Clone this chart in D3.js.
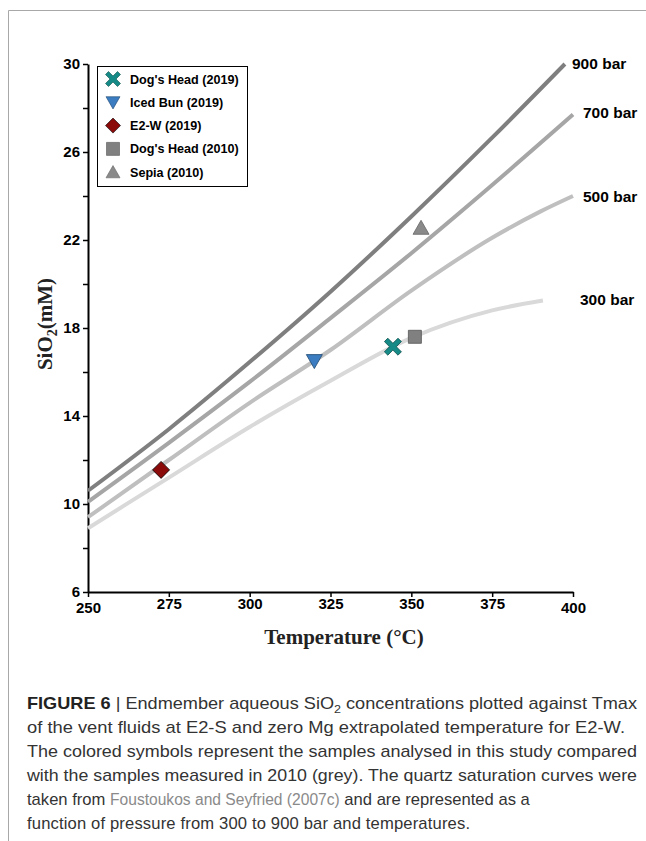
<!DOCTYPE html>
<html>
<head>
<meta charset="utf-8">
<script src="https://cdn.jsdelivr.net/npm/d3@7/dist/d3.min.js"></script>
<style>
  html, body { margin: 0; padding: 0; background: #fff; }
  svg { display: block; }
</style>
</head>
<body>
<svg id="chart" width="646" height="841"></svg>
<script>
// Quartz saturation curves (Foustoukos & Seyfried 2007c), temperature in °C, SiO2 in mM
const curveNames = ["900 bar", "700 bar", "500 bar", "300 bar"];
const curve900 = [[250, 10.6], [275, 13.4], [300, 16.45], [325, 19.65], [350, 23.07], [375, 26.65], [397.5, 30.0]];
const curve700 = [[250, 10.1], [275, 12.78], [300, 15.55], [325, 18.45], [350, 21.4], [375, 24.5], [400, 27.7]];
const curve500 = [[250, 9.4], [275, 12.0], [300, 14.6], [325, 17.0], [350, 19.7], [375, 22.1], [390, 23.3], [400, 24.0]];
const curve300 = [[250, 8.9], [275, 11.2], [300, 13.5], [325, 15.6], [350, 17.55], [375, 18.8], [390.7, 19.25]];
const curveColors = ["#7f7f7f", "#a6a6a6", "#bfbfbf", "#d9d9d9"];

// Vent fluid samples
const sampleNames = ["Dog's Head (2019)", "Iced Bun (2019)", "E2-W (2019)", "Dog's Head (2010)", "Sepia (2010)"];
const sampleTemps = [344.3, 320.0, 272.6, 351.1, 353.0];
const sampleSiO2 = [17.15, 16.5, 11.55, 17.6, 22.55];
const sampleFills = ["#168a86", "#3b7dc0", "#8b0a0a", "#808080", "#8a8a8a"];
const sampleShapes = ["cross", "triDown", "diamond", "square", "triUp"];

const xTicks = [250, 275, 300, 325, 350, 375, 400];
const yTicks = [6, 10, 14, 18, 22, 26, 30];
const yMinorTicks = [8, 12, 16, 20, 24, 28];

const svg = d3.select("#chart");

// page frame
svg.append("path")
  .attr("d", "M8.5,841 V10.5 H646")
  .attr("fill", "none").attr("stroke", "#a8a8a8").attr("stroke-width", 1);

const x = d3.scaleLinear().domain([250, 400]).range([88, 573]);
const y = d3.scaleLinear().domain([6, 30]).range([592, 64]);

const tickFont = "'Liberation Sans', Arial, sans-serif";
const tickSize = 15;

// x axis
const xAxis = svg.append("g").attr("transform", "translate(0,592)")
  .call(d3.axisBottom(x).tickValues(xTicks).tickSize(5).tickSizeOuter(0).tickFormat(d3.format("d")));
xAxis.select(".domain").attr("stroke", "#000").attr("stroke-width", 2);
xAxis.selectAll(".tick line").attr("stroke", "#000").attr("stroke-width", 1.5);
xAxis.selectAll(".tick text")
  .attr("font-family", tickFont).attr("font-weight", "bold").attr("font-size", tickSize)
  .attr("fill", "#000")
  .attr("y", d => (d === 250 || d === 400) ? 10 : 6);

// y axis
const yAxis = svg.append("g").attr("transform", "translate(88,0)")
  .call(d3.axisLeft(y).tickValues(yTicks).tickSize(5).tickSizeOuter(0).tickFormat(d3.format("d")));
yAxis.select(".domain").attr("stroke", "#000").attr("stroke-width", 2);
yAxis.selectAll(".tick line").attr("stroke", "#000").attr("stroke-width", 1.5);
yAxis.selectAll(".tick text")
  .attr("font-family", tickFont).attr("font-weight", "bold").attr("font-size", tickSize)
  .attr("fill", "#000").attr("x", -8);
const yMinor = svg.append("g").attr("transform", "translate(88,0)")
  .call(d3.axisLeft(y).tickValues(yMinorTicks).tickSize(5).tickFormat(""));
yMinor.select(".domain").remove();
yMinor.selectAll(".tick line").attr("stroke", "#000").attr("stroke-width", 1.5);

// axis titles
const serif = "'Liberation Serif', 'Times New Roman', serif";
svg.append("text")
  .attr("x", 344).attr("y", 644)
  .attr("text-anchor", "middle")
  .attr("font-family", serif)
  .attr("font-weight", "bold").attr("font-size", 21).attr("fill", "#222")
  .text("Temperature (°C)");

const yTitle = svg.append("text")
  .attr("transform", "translate(52,324) rotate(-90)")
  .attr("text-anchor", "middle")
  .attr("font-family", serif)
  .attr("font-weight", "bold").attr("font-size", 21).attr("fill", "#222");
yTitle.append("tspan").text("SiO");
yTitle.append("tspan").attr("font-size", 14).attr("dy", 5).text("2");
yTitle.append("tspan").attr("dy", -5).text("(mM)");

// saturation curves
const line = d3.line().x(d => x(d[0])).y(d => y(d[1])).curve(d3.curveMonotoneX);
const curves = [curve900, curve700, curve500, curve300];
const plot = svg.append("g");
curves.slice().reverse().forEach((c, i) => {
  const k = curves.length - 1 - i;
  plot.append("path")
    .attr("d", line(c))
    .attr("fill", "none")
    .attr("stroke", curveColors[k])
    .attr("stroke-width", 4)
    .attr("stroke-linecap", "butt");
});

// curve labels
const labelPos = [[572, 69], [583, 118], [583, 202], [580, 305]];
curveNames.forEach((n, i) => {
  svg.append("text")
    .attr("x", labelPos[i][0]).attr("y", labelPos[i][1])
    .attr("font-family", tickFont).attr("font-weight", "bold").attr("font-size", 15.5)
    .attr("fill", "#000").text(n);
});

// marker shapes
function crossPath(s) {
  // diagonal "X" with thick arms
  const h = s / 2, w = s * 0.2;
  const pts = [
    [-h + w, -h], [0, -w], [h - w, -h], [h, -h + w], [w, 0], [h, h - w],
    [h - w, h], [0, w], [-h + w, h], [-h, h - w], [-w, 0], [-h, -h + w]
  ];
  return "M" + pts.map(p => p.join(",")).join("L") + "Z";
}
function shapePath(shape, s) {
  const h = s / 2;
  switch (shape) {
    case "cross": return crossPath(s);
    case "triDown": return `M${-h},${-h * 0.8} L${h},${-h * 0.8} L0,${h * 0.95} Z`;
    case "triUp": return `M${-h},${h * 0.8} L${h},${h * 0.8} L0,${-h * 0.95} Z`;
    case "diamond": return `M0,${-h} L${h},0 L0,${h} L${-h},0 Z`;
    case "square": return `M${-h},${-h} H${h} V${h} H${-h} Z`;
  }
}
const sampleSizes = { cross: 17, triDown: 16, diamond: 17, square: 13, triUp: 16 };
const strokeFor = ["#0b4f4c", "#1e4770", "#000", "#555", "#666"];

sampleNames.forEach((n, i) => {
  svg.append("path")
    .attr("transform", `translate(${x(sampleTemps[i])},${y(sampleSiO2[i])})`)
    .attr("d", shapePath(sampleShapes[i], sampleSizes[sampleShapes[i]]))
    .attr("fill", sampleFills[i])
    .attr("stroke", strokeFor[i]).attr("stroke-width", 0.8);
});

// legend
const legend = svg.append("g");
legend.append("rect")
  .attr("x", 97.5).attr("y", 66.5).attr("width", 150).attr("height", 120)
  .attr("fill", "#fff").attr("stroke", "#000").attr("stroke-width", 1);
const legendScale = { cross: 15, triDown: 14, diamond: 15, square: 13, triUp: 14 };
sampleNames.forEach((n, i) => {
  const cy = 79 + i * 23.3;
  legend.append("path")
    .attr("transform", `translate(113,${cy})`)
    .attr("d", shapePath(sampleShapes[i], legendScale[sampleShapes[i]]))
    .attr("fill", sampleFills[i])
    .attr("stroke", strokeFor[i]).attr("stroke-width", 0.6);
  legend.append("text")
    .attr("x", 130).attr("y", cy + 4.5)
    .attr("font-family", tickFont).attr("font-weight", "bold").attr("font-size", 12.6)
    .attr("fill", "#000").text(n);
});

// caption (justified lines stretched to the column width)
const capFont = "'Liberation Sans', Arial, Helvetica, sans-serif";
const cap = svg.append("g")
  .attr("font-family", capFont).attr("font-size", 16.6).attr("fill", "#333");
const lines = [
  [{ t: "FIGURE 6", b: true }, { t: " | Endmember aqueous SiO" }, { t: "2", sub: true }, { t: " concentrations plotted against Tmax", up: true }],
  [{ t: "of the vent fluids at E2-S and zero Mg extrapolated temperature for E2-W." }],
  [{ t: "The colored symbols represent the samples analysed in this study compared" }],
  [{ t: "with the samples measured in 2010 (grey). The quartz saturation curves were" }],
  [{ t: "taken from " }, { t: "Foustoukos and Seyfried (2007c)", link: true }, { t: " and are represented as a" }],
  [{ t: "function of pressure from 300 to 900 bar and temperatures." }]
];
const capWidths = [610, 598, 610, 610, null, 443];
lines.forEach((parts, i) => {
  const tx = cap.append("text").attr("x", 27).attr("y", 709 + i * 24);
  if (capWidths[i]) {
    tx.attr("textLength", capWidths[i])
      .attr("lengthAdjust", i < 4 ? "spacingAndGlyphs" : "spacing");
  }
  parts.forEach(p => {
    const ts = tx.append("tspan").text(p.t);
    if (p.b) ts.attr("font-weight", "bold").attr("fill", "#222");
    if (p.link) ts.attr("fill", "#8a8a8a").attr("font-size", 15.6);
    if (p.sub) ts.attr("font-size", 11.5).attr("dy", 4);
    if (p.up) ts.attr("dy", -4);
  });
});
</script>
</body>
</html>
